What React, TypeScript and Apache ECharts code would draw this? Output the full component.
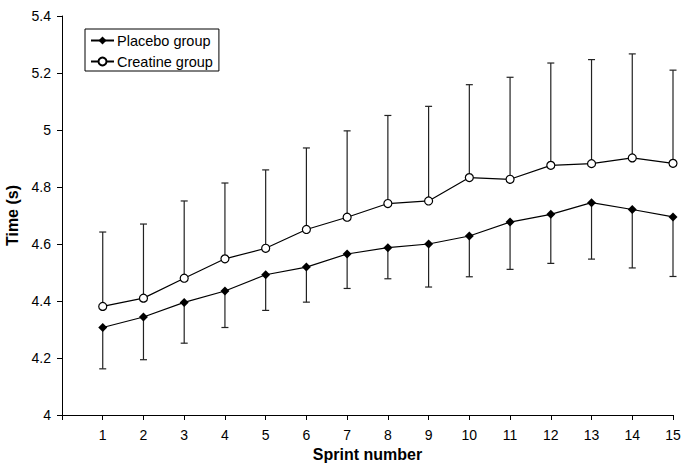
import React, { useEffect, useRef } from "react";
import * as echarts from "echarts";

const sprints = [1, 2, 3, 4, 5, 6, 7, 8, 9, 10, 11, 12, 13, 14, 15];
const placeboMean = [4.307, 4.344, 4.395, 4.435, 4.492, 4.519, 4.565, 4.587, 4.6, 4.628, 4.677, 4.704, 4.745, 4.721, 4.695];
const placeboLower = [4.162, 4.194, 4.252, 4.307, 4.367, 4.396, 4.444, 4.478, 4.449, 4.485, 4.511, 4.532, 4.547, 4.516, 4.486];
const creatineMean = [4.381, 4.41, 4.48, 4.548, 4.585, 4.651, 4.694, 4.742, 4.751, 4.833, 4.827, 4.876, 4.882, 4.902, 4.883];
const creatineUpper = [4.642, 4.67, 4.751, 4.814, 4.86, 4.937, 4.997, 5.051, 5.083, 5.159, 5.185, 5.235, 5.247, 5.267, 5.21];

const FONT = "Liberation Sans, Arial, sans-serif";

function errorRender(params: any, api: any) {
  const x = api.value(0);
  const a = api.coord([x, api.value(1)]);
  const b = api.coord([x, api.value(2)]);
  const half = 3.5;
  const style = { stroke: "#222", lineWidth: 1.2 };
  return {
    type: "group",
    children: [
      { type: "line", shape: { x1: a[0], y1: a[1], x2: b[0], y2: b[1] }, style },
      { type: "line", shape: { x1: b[0] - half, y1: b[1], x2: b[0] + half, y2: b[1] }, style },
    ],
  };
}

export default function App() {
  const ref = useRef<HTMLDivElement>(null);
  useEffect(() => {
    if (!ref.current) return;
    const chart = echarts.init(ref.current, null, { renderer: "svg" });
    chart.setOption({
      animation: false,
      backgroundColor: "#fff",
      grid: { left: 62, right: 10, top: 16, bottom: 55, containLabel: false, outerBoundsMode: "none" },
      legend: {
        data: ["Placebo group", "Creatine group"],
        orient: "vertical",
        left: 85,
        top: 29,
        borderColor: "#000",
        borderWidth: 1,
        borderRadius: 0,
        padding: [3, 6, 1, 5],
        itemGap: 4,
        itemWidth: 23,
        itemHeight: 10,
        textStyle: { fontFamily: FONT, fontSize: 14.5, lineHeight: 17, color: "#000", padding: [0, 0, 0, -2] },
      },
      xAxis: {
        type: "value",
        min: 0,
        max: 15,
        interval: 1,
        name: "Sprint number",
        nameLocation: "middle",
        nameGap: 23,
        nameTextStyle: { fontFamily: FONT, fontSize: 16, fontWeight: "bold", color: "#000" },
        axisLine: { show: true, lineStyle: { color: "#000", width: 1 } },
        axisTick: { show: true, length: 5, lineStyle: { color: "#000" } },
        axisLabel: {
          fontFamily: FONT,
          fontSize: 14,
          color: "#000",
          margin: 13,
          formatter: (v: number) => (v === 0 ? "" : String(v)),
        },
        splitLine: { show: false },
      },
      yAxis: {
        type: "value",
        min: 4,
        max: 5.4,
        interval: 0.2,
        name: "Time (s)",
        nameLocation: "middle",
        nameGap: 37,
        nameRotate: 90,
        nameTextStyle: { fontFamily: FONT, fontSize: 16, fontWeight: "bold", color: "#000" },
        axisLine: { show: true, lineStyle: { color: "#000", width: 1 } },
        axisTick: { show: true, length: 5, lineStyle: { color: "#000" } },
        axisLabel: {
          fontFamily: FONT,
          fontSize: 14,
          color: "#000",
          margin: 11,
          formatter: (v: number) => String(Math.round(v * 10) / 10),
        },
        splitLine: { show: false },
      },
      series: [
        {
          type: "custom",
          name: "placeboErr",
          renderItem: errorRender,
          encode: { x: 0, y: [1, 2] },
          data: sprints.map((s, i) => [s, placeboMean[i], placeboLower[i]]),
          z: 1,
          silent: true,
        },
        {
          type: "custom",
          name: "creatineErr",
          renderItem: errorRender,
          encode: { x: 0, y: [1, 2] },
          data: sprints.map((s, i) => [s, creatineMean[i], creatineUpper[i]]),
          z: 1,
          silent: true,
        },
        {
          type: "line",
          name: "Placebo group",
          data: sprints.map((s, i) => [s, placeboMean[i]]),
          symbol: "diamond",
          symbolSize: 9,
          showAllSymbol: true,
          lineStyle: { color: "#000", width: 1.2 },
          itemStyle: { color: "#000", borderColor: "#000", borderWidth: 0 },
          z: 3,
        },
        {
          type: "line",
          name: "Creatine group",
          data: sprints.map((s, i) => [s, creatineMean[i]]),
          symbol: "circle",
          symbolSize: 8,
          showAllSymbol: true,
          lineStyle: { color: "#000", width: 1.2 },
          itemStyle: { color: "#fff", borderColor: "#000", borderWidth: 1.2 },
          z: 3,
        },
      ],
    });
    return () => chart.dispose();
  }, []);
  return <div ref={ref} style={{ width: 683, height: 470, position: "absolute", left: 0, top: 0 }} />;
}
